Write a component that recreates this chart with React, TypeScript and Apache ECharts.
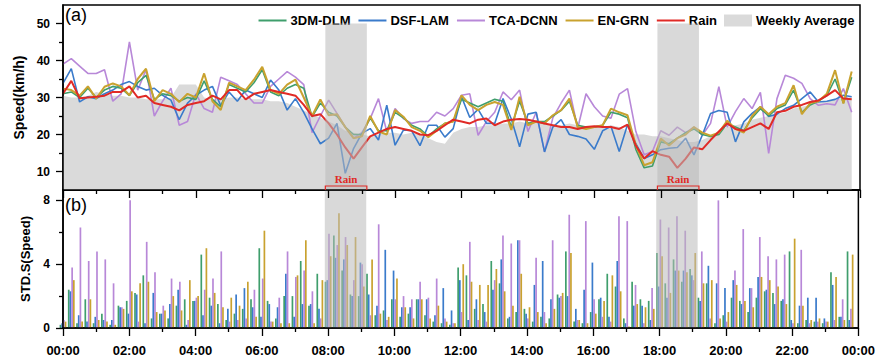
import React, { useEffect, useRef } from 'react';
import * as echarts from 'echarts';

const FONT = 'Liberation Sans, Arial, sans-serif';

// sample spacing: one value every 15 minutes, 00:00 .. 23:45
const STEP_HOURS = 0.25;

const NAMES = ['3DM-DLM', 'DSF-LAM', 'TCA-DCNN', 'EN-GRN'];
const COLORS = ['#3f9e6c', '#3a7bcb', '#b888d8', '#c9a22f'];
const RAIN_COLOR = '#e02a26';
const AVG_COLOR = '#dadada';

const X_TICK_LABELS = ['00:00', '02:00', '04:00', '06:00', '08:00', '10:00', '12:00', '14:00', '16:00', '18:00', '20:00', '22:00', '00:00'];
const Y1_MAJOR = [10, 20, 30, 40, 50];
const Y1_MINOR = [15, 25, 35, 45];
const Y2_MAJOR = [0, 4, 8];
const Y2_MINOR = [2, 6];

// rain periods (hours)
const RAIN_BANDS = [
  [7.9, 9.15],
  [17.9, 19.15],
];

// ---------- (a) speed ----------
const weeklyAvg = [
  30.5, 30, 30, 30.5, 31.5, 31, 30.5, 30.5,
  30, 30, 29.5, 29.5, 29.5, 30, 33.5, 33.5,
  33.5, 30, 29.5, 29.5, 30, 30, 29.5, 29.5,
  29.5, 29, 29, 28.5, 27.5, 26.5, 25.5, 24.5,
  23.5, 22.5, 21, 20.5, 20, 19.5, 20, 20.5,
  20.5, 20, 20.5, 20, 19, 18, 17.5, 20.5,
  21.5, 22, 22, 22.5, 22.5, 23, 23, 23.5,
  23, 23.5, 23, 22.5, 22.5, 23, 22.5, 22,
  22, 22, 22.5, 22, 21, 20, 20, 19.5,
  19.5, 19, 18.5, 18, 18, 18.5, 19.5, 21,
  22, 22.5, 23, 24, 24.5, 25, 25.5, 26,
  27, 27.5, 28, 28.5, 29, 29.5, 30, 30,
];

const rainSpeed = [
  31, 34.5, 29.8, 30, 30.2, 30.5, 31.5, 31.5,
  33, 30, 30.5, 28.5, 28, 27.5, 26.5, 28,
  28.5, 29, 30.5, 29.5, 32, 32, 29.5, 31,
  31.5, 32, 31.5, 31, 30.5, 28, 25, 25.5,
  23, 20, 16.5, 13.5, 16.5, 19.5, 20.5, 21.5,
  22, 21.5, 21, 20, 19.8, 21, 22.5, 24,
  23.5, 23, 24, 24.3, 22.5, 23.5, 24, 24.2,
  24, 23.5, 23, 22.5, 22, 22, 21.5, 22,
  22.2, 22, 22, 21.5, 22.7, 17, 13.5, 15.5,
  14.5, 14, 11, 13.5, 16.5, 16, 18.5, 20.8,
  23, 21.5, 21, 22, 23, 21.5, 26, 26.4,
  27.5, 28, 28.8, 29.2, 30.5, 32, 29.7, 29.5,
];

const dlmSpeed = [
  31, 31.5, 30, 32.5, 30, 32, 33, 32.5,
  30.5, 34, 36, 29.5, 31, 30.5, 29, 30,
  29.5, 34.5, 29.5, 27.5, 33.5, 32.5, 31.5, 34,
  37.5, 31.5, 30.5, 32.5, 33.5, 32.5, 24.8, 28.5,
  26, 25, 22, 20, 20, 24.5, 21, 21,
  26, 24.5, 22.5, 21.5, 19.5, 21.5, 23, 23.5,
  29.5, 28.5, 27.5, 28.5, 29.5, 29, 22, 29,
  23, 23.5, 23.5, 25, 26.5, 29, 22.5, 22,
  22, 22.5, 26, 25.5, 24.5, 16, 11, 11.5,
  18, 17.5, 19, 20.5, 21.5, 20, 19.5, 20,
  23, 22, 21, 24.5, 27, 25, 27, 28,
  32, 26, 28, 29, 30.5, 35, 28.5, 35.5,
];

const lamSpeed = [
  33.8, 37.8, 28.8, 30.2, 29.7, 31, 32, 33.5,
  34.3, 33, 32, 32.5, 30.6, 29.3, 24, 28.5,
  30.6, 32, 33, 27.8, 31.5, 29, 32, 31,
  30, 34.7, 32, 26.6, 29.7, 26, 21.5, 17.5,
  19, 23, 9.5, 16.2, 20.3, 21.6, 18.5, 27.9,
  17.1, 21.2, 21, 17, 22.5, 22.5, 19.3, 21.6,
  30.2, 24.6, 26.8, 23, 23, 29.7, 24.2, 16.7,
  25.5, 26, 15.3, 22, 24, 20, 19.5, 18.8,
  16, 21, 22.2, 15.4, 22.7, 17.5, 13.5, 14.5,
  15.9, 16.3, 16.5, 19, 14.5, 19.8, 25.7, 26.5,
  26, 18, 23.4, 25.7, 27.5, 24.9, 25.5, 27,
  27.9, 29.7, 31.5, 28.8, 29, 29.5, 30.6, 30.2,
];

const dcnnSpeed = [
  39, 40.5, 38.5, 36.5, 36.5, 37.5, 29, 31,
  45, 32, 37.5, 25, 29, 32.5, 22.5, 23.5,
  31, 27, 26, 35.5, 34.5, 33.5, 31, 28.5,
  28.5, 33, 35, 37, 35.5, 33.5, 20.5, 25,
  29.3, 25.7, 22, 19, 20.5, 24.3, 29.7, 20.8,
  27, 24.3, 23, 23.5, 23.5, 26, 25, 27,
  30.6, 31, 19.8, 23.5, 26, 31.5, 29.4, 32,
  20.8, 26, 15.3, 24.5, 28.5, 32, 21.7, 31,
  27.5, 25, 24.4, 30.9, 32.4, 20.8, 14.5, 15.4,
  21, 19.8, 22, 20.5, 22, 19.8, 23, 32.9,
  22, 26.2, 29.7, 27, 31.4, 14.9, 29.7, 36,
  35.2, 33.8, 29.7, 27.9, 28.3, 28, 32.4, 26,
];

const grnSpeed = [
  32.4, 32, 30.5, 33, 29.7, 32.9, 33.8, 33,
  30.6, 35, 37.8, 29, 32, 31, 28.8, 31,
  30, 36.5, 29, 26.6, 34, 33, 32, 34.8,
  38.3, 32, 31, 33.5, 34.8, 30, 25, 29.5,
  25.2, 25.5, 22, 19, 19.5, 25, 20.8, 20,
  26.6, 24.8, 22, 21, 19.3, 21, 23, 23.5,
  30.6, 28, 26.6, 28, 28.8, 28, 21.2, 30.2,
  22.5, 23.5, 23, 25.2, 26.6, 29.7, 22, 21.5,
  22, 22.5, 27, 26, 25.2, 17.1, 11.7, 12.5,
  18.9, 17, 19, 20, 22, 20.5, 19.7, 20.5,
  23.7, 21.5, 20.5, 25, 27.5, 25.5, 27.5, 28.5,
  33.3, 25.5, 28.5, 29, 31, 37.4, 28.4, 37,
];

// ---------- (b) standard deviation ----------
const dlmStd = [
  0.2, 2.4, 0.3, 1.8, 0.3, 0.9, 0.2, 1.4,
  1.7, 2.2, 3.3, 0.6, 0.9, 0.6, 1.4, 1.8,
  1.7, 4.6, 1.9, 1.5, 0.5, 0.9, 1.2, 1.8,
  5.0, 1.7, 0.6, 2.0, 2.0, 4.2, 1.4, 3.4,
  2.9, 5.8, 3.6, 2.1, 2.0, 3.4, 0.8, 1.1,
  1.8, 0.7, 0.9, 1.8, 0.8, 0.4, 0.3, 0.2,
  3.8, 3.3, 1.2, 1.5, 4.2, 2.8, 0.6, 1.0,
  1.2, 0.4, 0.7, 0.6, 2.1, 4.8, 0.4, 0.3,
  1.0, 1.8, 3.4, 2.6, 0.6, 2.9, 1.8, 1.7,
  4.7, 2.8, 4.3, 2.9, 3.7, 1.9, 2.8, 0.3,
  0.8, 1.9, 1.7, 1.0, 1.9, 2.3, 2.2, 1.7,
  4.8, 0.3, 0.5, 0.4, 0.3, 3.5, 0.7, 4.8,
];

const lamStd = [
  0.3, 2.3, 0.8, 0.4, 0.7, 0.5, 0.5, 1.3,
  0.9, 2.1, 0.3, 2.2, 0.9, 1.5, 2.4, 0.2,
  1.7, 0.8, 1.4, 0.3, 1.2, 2.1, 2.5, 1.3,
  0.7, 1.5, 1.3, 3.4, 0.7, 1.5, 1.5, 1.2,
  3.0, 4.4, 4.3, 2.0, 4.1, 2.1, 1.4, 4.9,
  3.6, 1.3, 1.3, 1.8, 1.8, 0.8, 2.5, 1.1,
  3.0, 0.5, 1.8, 1.0, 2.4, 4.3, 0.7, 5.5,
  0.9, 2.7, 4.2, 1.8, 1.9, 2.0, 1.2, 2.4,
  4.1, 1.9, 0.7, 4.2, 0.3, 1.4, 1.4, 0.5,
  2.6, 1.9, 3.6, 3.6, 3.3, 1.7, 3.9, 2.8,
  2.5, 3.0, 1.5, 2.5, 3.2, 2.4, 1.5, 1.8,
  0.5, 1.4, 1.9, 1.9, 0.6, 2.7, 0.7, 0.5,
];

const dcnnStd = [
  0.5, 3.8, 6.3, 4.2, 4.8, 4.3, 2.8, 1.3,
  8.0, 0.4, 5.4, 3.5, 1.4, 3.1, 2.9, 0.5,
  1.9, 2.4, 3.1, 4.8, 0.4, 0.5, 0.6, 2.4,
  3.1, 0.4, 1.9, 4.8, 3.2, 3.6, 2.3, 0.6,
  5.9, 5.2, 5.7, 3.0, 4.0, 0.8, 6.5, 0.5,
  1.8, 2.0, 1.8, 2.9, 1.9, 3.1, 0.6, 0.3,
  1.0, 5.4, 0.5, 0.4, 3.0, 5.8, 5.3, 5.5,
  0.6, 4.4, 1.0, 5.5, 2.0, 7.1, 0.5, 6.7,
  1.8, 0.7, 0.4, 7.0, 6.7, 2.7, 0.3, 2.5,
  6.8, 6.3, 7.0, 6.1, 3.0, 4.8, 0.6, 8.0,
  0.4, 3.6, 6.2, 2.5, 5.7, 4.5, 4.3, 4.6,
  0.3, 4.9, 0.3, 0.4, 0.4, 0.5, 1.8, 1.2,
];

const grnStd = [
  0.4, 3.0, 0.4, 1.8, 0.5, 0.4, 0.2, 1.2,
  2.3, 2.8, 2.9, 1.0, 1.1, 2.0, 1.1, 3.0,
  2.0, 5.0, 2.2, 1.3, 1.9, 1.4, 2.9, 0.7,
  6.1, 0.4, 0.3, 0.3, 3.3, 5.5, 0.3, 3.0,
  4.5, 7.2, 5.2, 5.7, 2.6, 4.3, 0.9, 0.7,
  3.1, 1.3, 0.6, 1.8, 0.6, 1.4, 0.4, 0.3,
  4.0, 2.9, 2.7, 2.7, 3.7, 2.3, 1.4, 3.4,
  1.3, 1.0, 0.3, 1.2, 2.2, 4.7, 0.5, 0.3,
  0.9, 1.7, 3.3, 2.3, 0.1, 1.5, 1.3, 1.2,
  4.5, 2.2, 3.6, 3.5, 4.7, 2.8, 3.0, 0.6,
  1.0, 2.7, 1.7, 1.3, 3.2, 3.0, 2.6, 1.5,
  5.6, 1.4, 0.5, 0.6, 0.4, 3.2, 0.5, 4.6,
];

const TOP_Y_MIN = 5;
const TOP_Y_MAX = 55;
const BAND_TOP = 50;
const BOT_Y_MIN = 0;
const BOT_Y_MAX = 8.65;

export default function App() {
  const ref = useRef<HTMLDivElement>(null);

  useEffect(() => {
    if (!ref.current) return;
    const chart = echarts.init(ref.current, null, { renderer: 'svg' });
    const toXY = (arr: number[]) => arr.map((v, i) => [i * STEP_HOURS, v]);

    const speedLists = [dlmSpeed, lamSpeed, dcnnSpeed, grnSpeed];
    const stdLists = [dlmStd, lamStd, dcnnStd, grnStd];
    const lineOrder = [2, 1, 0, 3];

    const axisLine = { show: true, lineStyle: { color: '#000', width: 1.5 } };
    const tickStyle = { color: '#000', width: 1.3 };
    const labelStyle = { color: '#000', fontFamily: FONT, fontWeight: 'bold' as const, fontSize: 12 };

    const xAxisBase = {
      type: 'value' as const,
      min: 0,
      max: 24,
      interval: 2,
      z: 10,
      axisLine,
      axisTick: { show: true, inside: false, length: 8, lineStyle: tickStyle },
      minorTick: { show: true, splitNumber: 2, length: 4, lineStyle: tickStyle },
      splitLine: { show: false },
      minorSplitLine: { show: false },
    };

    const hideSymbol = { itemStyle: { opacity: 0 } };

    const option: any = {
      animation: false,
      backgroundColor: '#fff',
      grid: [
        { left: 63, right: 18, top: 5, height: 185, show: true, borderColor: '#000', borderWidth: 1.5, backgroundColor: 'transparent' },
        { left: 63, right: 18, top: 190, height: 138, show: true, borderColor: '#000', borderWidth: 1.5, backgroundColor: 'transparent' },
      ],
      legend: {
        top: 9,
        right: 18,
        itemWidth: 28,
        itemHeight: 12,
        itemGap: 7,
        textStyle: { color: '#000', fontFamily: FONT, fontWeight: 'bold', fontSize: 13, padding: [0, 0, 0, -1] },
        data: [
          { name: NAMES[0], ...hideSymbol },
          { name: NAMES[1], ...hideSymbol },
          { name: NAMES[2], ...hideSymbol },
          { name: NAMES[3], ...hideSymbol },
          { name: 'Rain', ...hideSymbol },
          { name: 'Weekly Average', icon: 'rect', itemStyle: { color: AVG_COLOR, opacity: 1 } },
        ],
      },
      xAxis: [
        { ...xAxisBase, gridIndex: 0, axisLabel: { show: false } },
        {
          ...xAxisBase,
          gridIndex: 1,
          axisLabel: {
            ...labelStyle,
            fontSize: 13,
            margin: 16,
            formatter: (v: number) => X_TICK_LABELS[Math.round(v / 2)] ?? '',
          },
        },
      ],
      yAxis: [
        {
          type: 'value', gridIndex: 0, min: TOP_Y_MIN, max: TOP_Y_MAX, position: 'left', offset: 0, z: 10,
          axisLine,
          axisTick: { show: true, customValues: Y1_MAJOR, length: 7, lineStyle: tickStyle },
          axisLabel: { ...labelStyle, customValues: Y1_MAJOR, margin: 13 },
          splitLine: { show: false },
          name: 'Speed(km/h)', nameLocation: 'middle', nameGap: 37,
          nameTextStyle: { color: '#000', fontFamily: FONT, fontWeight: 'bold', fontSize: 14 },
        },
        {
          type: 'value', gridIndex: 0, min: TOP_Y_MIN, max: TOP_Y_MAX, position: 'left', offset: 0, z: 10,
          axisLine: { show: false },
          axisTick: { show: true, customValues: Y1_MINOR, length: 4, lineStyle: tickStyle },
          axisLabel: { show: false },
          splitLine: { show: false },
        },
        {
          type: 'value', gridIndex: 1, min: BOT_Y_MIN, max: BOT_Y_MAX, position: 'left', offset: 0, z: 10,
          axisLine,
          axisTick: { show: true, customValues: Y2_MAJOR, length: 7, lineStyle: tickStyle },
          axisLabel: { ...labelStyle, customValues: Y2_MAJOR, margin: 13 },
          splitLine: { show: false },
          name: 'STD.S(Speed)', nameLocation: 'middle', nameGap: 30,
          nameTextStyle: { color: '#000', fontFamily: FONT, fontWeight: 'bold', fontSize: 13 },
        },
        {
          type: 'value', gridIndex: 1, min: BOT_Y_MIN, max: BOT_Y_MAX, position: 'left', offset: 0, z: 10,
          axisLine: { show: false },
          axisTick: { show: true, customValues: Y2_MINOR, length: 4, lineStyle: tickStyle },
          axisLabel: { show: false },
          splitLine: { show: false },
        },
      ],
      series: [
        {
          name: 'Weekly Average', type: 'line', xAxisIndex: 0, yAxisIndex: 0, z: 1,
          data: toXY(weeklyAvg), symbol: 'none', showSymbol: false,
          lineStyle: { width: 0, color: AVG_COLOR }, itemStyle: { color: AVG_COLOR },
          areaStyle: { color: AVG_COLOR, opacity: 1 },
        },
        ...lineOrder.map((k) => ({
          name: NAMES[k], type: 'line', xAxisIndex: 0, yAxisIndex: 0, z: 3,
          data: toXY(speedLists[k]), symbol: 'none', showSymbol: false,
          lineStyle: { width: k === 3 ? 2 : 1.6, color: COLORS[k] }, itemStyle: { color: COLORS[k] },
        })),
        {
          name: 'Rain', type: 'line', xAxisIndex: 0, yAxisIndex: 0, z: 4,
          data: toXY(rainSpeed), symbol: 'none', showSymbol: false,
          lineStyle: { width: 2, color: RAIN_COLOR }, itemStyle: { color: RAIN_COLOR },
        },
        ...NAMES.map((n, k) => ({
          name: n, type: 'bar', xAxisIndex: 1, yAxisIndex: 2, z: 3,
          data: toXY(stdLists[k]), barWidth: 1.7, barGap: '0%',
          itemStyle: { color: COLORS[k] },
        })),
        {
          name: '_bandTop', type: 'line', xAxisIndex: 0, yAxisIndex: 0, data: [],
          markArea: {
            z: 6, silent: true,
            itemStyle: { color: 'rgba(185,185,185,0.55)' },
            data: RAIN_BANDS.map(([a, b]) => [{ xAxis: a, yAxis: TOP_Y_MIN }, { xAxis: b, yAxis: BAND_TOP }]),
          },
        },
        {
          name: '_bandBottom', type: 'line', xAxisIndex: 1, yAxisIndex: 2, data: [],
          markArea: {
            z: 6, silent: true,
            itemStyle: { color: 'rgba(185,185,185,0.55)' },
            data: RAIN_BANDS.map(([a, b]) => [{ xAxis: a, yAxis: BOT_Y_MIN }, { xAxis: b, yAxis: BOT_Y_MAX }]),
          },
        },
      ],
    };

    chart.setOption(option);

    const elements: any[] = [
      { type: 'text', left: 65, top: 6, z: 20, style: { text: '(a)', fontSize: 18, fontFamily: FONT, fill: '#000' } },
      { type: 'text', left: 65, top: 196, z: 20, style: { text: '(b)', fontSize: 18, fontFamily: FONT, fill: '#000' } },
    ];
    RAIN_BANDS.forEach(([a, b]) => {
      const p1 = chart.convertToPixel({ gridIndex: 0 }, [a, TOP_Y_MIN]) as number[];
      const p2 = chart.convertToPixel({ gridIndex: 0 }, [b, TOP_Y_MIN]) as number[];
      const yb = p1[1];
      elements.push({
        type: 'polyline', z: 20, silent: true,
        shape: { points: [[p1[0], yb], [p1[0], yb - 4], [p2[0], yb - 4], [p2[0], yb]] },
        style: { stroke: RAIN_COLOR, lineWidth: 1.2, fill: 'none' },
      });
      elements.push({
        type: 'text', z: 20, silent: true,
        x: (p1[0] + p2[0]) / 2, y: yb - 6,
        style: {
          text: 'Rain', align: 'center', verticalAlign: 'bottom',
          fontFamily: 'Liberation Serif, serif', fontWeight: 'bold', fontSize: 11, fill: RAIN_COLOR,
        },
      });
    });
    chart.setOption({ graphic: { elements } });

    return () => chart.dispose();
  }, []);

  return <div ref={ref} style={{ position: 'absolute', left: 0, top: 0, width: 878, height: 360 }} />;
}
